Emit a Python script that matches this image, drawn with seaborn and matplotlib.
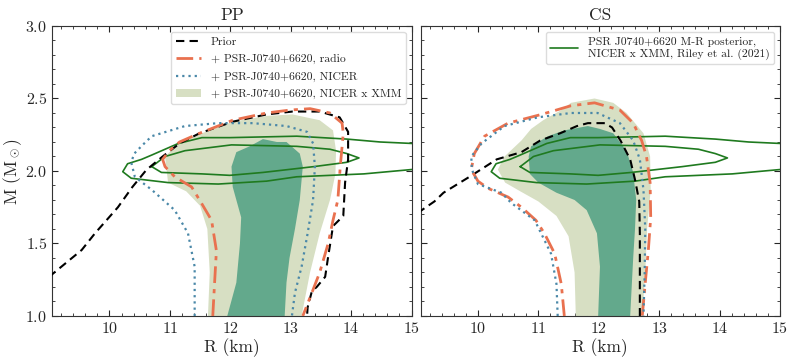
import matplotlib
matplotlib.use("Agg")
import matplotlib.pyplot as plt
import seaborn as sns
from matplotlib.lines import Line2D
from matplotlib.patches import Patch
from matplotlib.ticker import MultipleLocator

# ---- PP panel ----
pp_prior_R = [9.0, 9.54, 9.76, 10.14, 10.38, 10.61, 10.88, 11.16, 11.49, 12.04, 12.6, 13.03, 13.48,
              13.81, 13.95, 13.95, 13.9, 13.87, 13.7, 13.62, 13.57, 13.43, 13.35, 13.28, 13.27]
pp_prior_M = [1.27, 1.455, 1.57, 1.75, 1.89, 2.007, 2.10, 2.19, 2.26, 2.34, 2.39, 2.41, 2.41,
              2.37, 2.27, 2.08, 1.92, 1.69, 1.62, 1.41, 1.27, 1.20, 1.17, 1.06, 1.0]

pp_radio_R = [11.71, 11.74, 11.77, 11.69, 11.52, 11.36, 11.08, 10.92, 10.88, 10.99, 11.16, 11.49,
              12.04, 12.6, 12.98, 13.32, 13.65, 13.85, 13.87, 13.82, 13.78, 13.7, 13.62, 13.48,
              13.35, 13.2]
pp_radio_M = [1.0, 1.23, 1.45, 1.66, 1.78, 1.89, 1.96, 2.03, 2.08, 2.14, 2.20, 2.26,
              2.35, 2.40, 2.42, 2.43, 2.40, 2.33, 2.26, 2.03, 1.80, 1.66, 1.50, 1.30,
              1.16, 1.0]

pp_nicer_R = [11.41, 11.41, 11.3, 11.08, 10.7, 10.42, 10.36, 10.41, 10.55, 10.7, 11.25, 11.8,
              12.37, 12.93, 13.27, 13.37, 13.40, 13.37, 13.28, 13.18, 13.07, 13.02]
pp_nicer_M = [1.0, 1.34, 1.57, 1.73, 1.87, 1.96, 2.06, 2.12, 2.18, 2.24, 2.31, 2.33,
              2.33, 2.31, 2.27, 2.19, 2.03, 1.80, 1.57, 1.34, 1.16, 1.0]

pp_xmm95_R = [11.63, 11.66, 11.62, 11.5, 11.27, 10.97, 10.92, 11.14, 11.53, 12.04, 12.6, 13.03,
              13.48, 13.70, 13.75, 13.74, 13.65, 13.48, 13.32, 13.18]
pp_xmm95_M = [1.0, 1.3, 1.6, 1.76, 1.86, 1.92, 2.10, 2.19, 2.26, 2.34, 2.38, 2.39,
              2.35, 2.28, 2.14, 1.98, 1.80, 1.57, 1.30, 1.0]

pp_xmm68_R = [11.95, 12.1, 12.16, 12.18, 12.04, 12.02, 12.1, 12.32, 12.54, 12.77, 12.93, 13.15,
              13.2, 13.15, 13.07, 12.98, 12.93, 12.90]
pp_xmm68_M = [1.0, 1.23, 1.5, 1.68, 1.89, 2.03, 2.13, 2.17, 2.22, 2.20, 2.20, 2.12,
              2.03, 1.80, 1.60, 1.40, 1.23, 1.0]

# ---- CS panel ----
cs_prior_R = [9.0, 9.28, 9.43, 9.88, 10.31, 10.72, 11.03, 11.36, 11.64, 11.82, 12.1, 12.22,
              12.36, 12.52, 12.6, 12.67, 12.68, 12.68]
cs_prior_M = [1.71, 1.79, 1.85, 1.965, 2.08, 2.13, 2.21, 2.26, 2.31, 2.33, 2.33, 2.30,
              2.21, 2.08, 1.94, 1.79, 1.57, 1.0]

cs_radio_R = [11.43, 11.38, 11.27, 11.1, 10.96, 10.72, 10.5, 10.17, 10.0, 9.89, 9.94, 10.11,
              10.5, 11.05, 11.54, 11.93, 12.35, 12.57, 12.71, 12.79, 12.85, 12.86, 12.82,
              12.77, 12.72]
cs_radio_M = [1.0, 1.22, 1.43, 1.57, 1.66, 1.75, 1.82, 1.88, 1.93, 2.01, 2.12, 2.24,
              2.33, 2.39, 2.45, 2.47, 2.42, 2.33, 2.21, 2.10, 1.92, 1.68, 1.45,
              1.23, 1.0]

cs_nicer_R = [11.32, 11.30, 11.21, 10.94, 10.55, 10.39, 10.0, 9.9, 9.89, 10.06, 10.44, 10.99,
              11.54, 11.98, 12.35, 12.57, 12.68, 12.74, 12.77, 12.76, 12.74]
cs_nicer_M = [1.0, 1.22, 1.43, 1.66, 1.78, 1.85, 1.91, 2.01, 2.10, 2.19, 2.31, 2.37,
              2.40, 2.40, 2.33, 2.21, 2.08, 1.87, 1.6, 1.3, 1.0]

cs_xmm95_R = [11.62, 11.6, 11.5, 11.3, 11.0, 10.7, 10.45, 10.33, 10.44, 10.72, 10.88, 11.08,
              11.38, 11.54, 11.93, 12.24, 12.46, 12.74, 12.85, 12.86, 12.80, 12.77, 12.72]
cs_xmm95_M = [1.0, 1.3, 1.55, 1.69, 1.79, 1.86, 1.92, 2.01, 2.10, 2.21, 2.29, 2.35,
              2.42, 2.47, 2.50, 2.47, 2.40, 2.26, 2.10, 1.87, 1.6, 1.3, 1.0]

cs_xmm68_R = [11.99, 12.02, 11.97, 11.8, 11.6, 11.3, 11.0, 10.86, 10.84, 10.88, 11.16, 11.43,
              11.82, 12.02, 12.24, 12.46, 12.57, 12.62, 12.60, 12.57, 12.52]
cs_xmm68_M = [1.0, 1.34, 1.57, 1.73, 1.80, 1.85, 1.92, 1.98, 2.10, 2.17, 2.24, 2.28,
              2.31, 2.29, 2.26, 2.14, 1.99, 1.80, 1.6, 1.4, 1.0]

# ---- Riley et al. (2021) M-R posterior contours (same in both panels) ----
riley95_R = [15.3, 15.0, 14.48, 13.93, 13.1, 11.99, 11.53, 11.14, 10.7, 10.53, 10.3, 10.22,
             10.36, 10.97, 11.8, 12.6, 13.1, 14.21, 15.0, 15.3]
riley95_M = [2.18, 2.19, 2.20, 2.22, 2.24, 2.23, 2.23, 2.19, 2.11, 2.08, 2.05, 1.995,
             1.95, 1.92, 1.91, 1.93, 1.96, 1.98, 2.01, 2.02]
riley68_R = [10.7, 10.92, 11.25, 12.02, 13.1, 13.65, 13.93, 14.13, 13.93, 13.38, 12.54, 11.99,
             11.53, 10.86, 10.7]
riley68_M = [2.03, 2.10, 2.14, 2.18, 2.17, 2.15, 2.12, 2.09, 2.06, 2.03, 1.99, 1.97,
             1.98, 1.99, 2.03]

c_prior = "black"
c_radio = "#e9714f"
c_nicer = "#4a88a8"
c_light = "#d7dfc3"
c_dark = "#63a98c"
c_riley = "#1f7a1f"
dashdot = (0, (6, 2.2, 1.5, 2.2))

sns.set_style("ticks")
plt.rcParams["font.family"] = ["cmr10"]
plt.rcParams["mathtext.fontset"] = "cm"
plt.rcParams["axes.formatter.use_mathtext"] = True
plt.rcParams["axes.unicode_minus"] = False

fig, axes = plt.subplots(1, 2, figsize=(7.89, 3.64), dpi=100, sharey=True)
fig.subplots_adjust(left=0.066, right=0.9886, top=0.9286, bottom=0.1319, wspace=0.025)

panels = [
    ("PP", pp_prior_R, pp_prior_M, pp_radio_R, pp_radio_M, pp_nicer_R, pp_nicer_M,
     pp_xmm95_R, pp_xmm95_M, pp_xmm68_R, pp_xmm68_M),
    ("CS", cs_prior_R, cs_prior_M, cs_radio_R, cs_radio_M, cs_nicer_R, cs_nicer_M,
     cs_xmm95_R, cs_xmm95_M, cs_xmm68_R, cs_xmm68_M),
]

for ax, (name, prR, prM, raR, raM, niR, niM, l95R, l95M, l68R, l68M) in zip(axes, panels):
    ax.fill(l95R, l95M, color=c_light, lw=0, zorder=1)
    ax.fill(l68R, l68M, color=c_dark, lw=0, zorder=1.1)
    sns.lineplot(x=riley95_R, y=riley95_M, sort=False, estimator=None, ax=ax,
                 color=c_riley, lw=1.2, zorder=2)
    sns.lineplot(x=riley68_R, y=riley68_M, sort=False, estimator=None, ax=ax,
                 color=c_riley, lw=1.2, zorder=2)
    sns.lineplot(x=prR, y=prM, sort=False, estimator=None, ax=ax,
                 color=c_prior, lw=1.5, linestyle=(0, (4, 2.5)), zorder=3)
    sns.lineplot(x=raR, y=raM, sort=False, estimator=None, ax=ax,
                 color=c_radio, lw=2.0, linestyle=dashdot, zorder=3)
    sns.lineplot(x=niR, y=niM, sort=False, estimator=None, ax=ax,
                 color=c_nicer, lw=1.6, linestyle=(0, (1, 1.8)), zorder=3)

    ax.set_xlim(9.05, 15)
    ax.set_ylim(1.0, 3.0)
    ax.xaxis.set_major_locator(MultipleLocator(1))
    ax.xaxis.set_minor_locator(MultipleLocator(0.2))
    ax.yaxis.set_major_locator(MultipleLocator(0.5))
    ax.yaxis.set_minor_locator(MultipleLocator(0.1))
    ax.tick_params(which="both", direction="in", top=True, right=True, labelsize=11.5)
    ax.tick_params(which="major", length=4, width=0.8)
    ax.tick_params(which="minor", length=2, width=0.6)
    ax.set_title(name, fontsize=12.5, pad=4)
    ax.set_xlabel("R (km)", fontsize=12.5, labelpad=2)
    for s in ax.spines.values():
        s.set_color("0.2")
        s.set_linewidth(0.8)

axes[0].set_ylabel(r"M (M$_\odot$)", fontsize=12.5)
axes[0].yaxis.set_label_coords(-0.078, 0.5)

h_left = [
    Line2D([], [], color=c_prior, lw=1.5, linestyle=(0, (4, 2.5))),
    Line2D([], [], color=c_radio, lw=2.0, linestyle=dashdot),
    Line2D([], [], color=c_nicer, lw=1.6, linestyle=(0, (1, 1.8))),
    Patch(facecolor=c_light, edgecolor="none"),
]
lab_left = ["Prior", "+ PSR-J0740+6620, radio", "+ PSR-J0740+6620, NICER",
            "+ PSR-J0740+6620, NICER x XMM"]
axes[0].legend(h_left, lab_left, loc="upper right", fontsize=8.4, labelspacing=0.62,
               handlelength=2.2, frameon=True, edgecolor="0.85", framealpha=0.9)

h_right = [Line2D([], [], color=c_riley, lw=1.2)]
lab_right = ["PSR J0740+6620 M-R posterior,\nNICER x XMM, Riley et al. (2021)"]
axes[1].legend(h_right, lab_right, loc="upper right", fontsize=8.4, handlelength=2.4,
               frameon=True, edgecolor="0.85", framealpha=0.9)

fig.savefig("out.png", dpi=100)
